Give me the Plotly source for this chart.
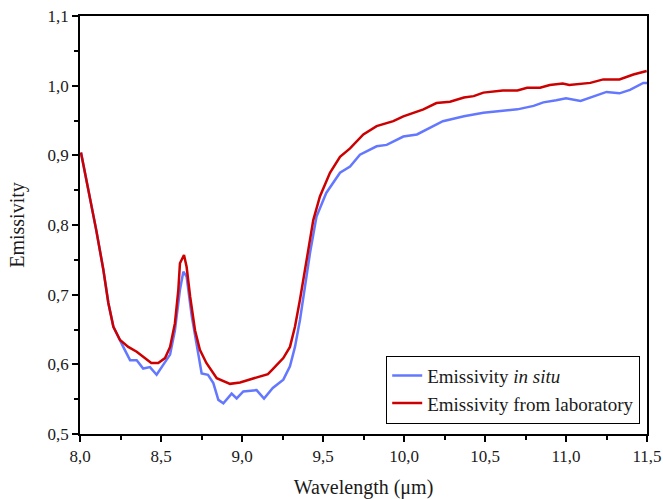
import plotly.graph_objects as go

# Emissivity in situ (blue)
insitu_x = [8.006, 8.062, 8.10, 8.144, 8.175, 8.206, 8.247, 8.267, 8.309, 8.35, 8.39, 8.432, 8.473,
            8.514, 8.556, 8.586, 8.617, 8.638, 8.658, 8.69, 8.72, 8.751, 8.79, 8.823, 8.854, 8.885,
            8.936, 8.967, 9.008, 9.09, 9.136, 9.19, 9.255, 9.296, 9.327, 9.358, 9.389, 9.42, 9.46,
            9.52, 9.605, 9.667, 9.728, 9.831, 9.893, 9.996, 10.08, 10.16, 10.24, 10.37, 10.49,
            10.61, 10.70, 10.80, 10.86, 10.94, 11.00, 11.09, 11.17, 11.25, 11.33, 11.395, 11.477, 11.5]
insitu_y = [0.904, 0.841, 0.793, 0.736, 0.688, 0.654, 0.633, 0.625, 0.606, 0.606, 0.594, 0.596, 0.585,
            0.599, 0.614, 0.649, 0.707, 0.733, 0.726, 0.669, 0.630, 0.587, 0.585, 0.573, 0.549, 0.544,
            0.558, 0.551, 0.561, 0.563, 0.551, 0.566, 0.578, 0.597, 0.625, 0.664, 0.712, 0.760, 0.812,
            0.846, 0.875, 0.884, 0.901, 0.913, 0.915, 0.927, 0.930, 0.939, 0.949, 0.956, 0.961,
            0.964, 0.966, 0.971, 0.976, 0.979, 0.982, 0.978, 0.985, 0.991, 0.989, 0.994, 1.004, 1.004]

# Emissivity from laboratory (red)
lab_x = [8.006, 8.062, 8.10, 8.144, 8.175, 8.206, 8.247, 8.298, 8.35, 8.40, 8.44, 8.483, 8.525,
         8.556, 8.586, 8.607, 8.617, 8.642, 8.658, 8.68, 8.71, 8.74, 8.78, 8.844, 8.926, 8.988,
         9.07, 9.16, 9.19, 9.255, 9.296, 9.327, 9.358, 9.389, 9.42, 9.44, 9.481, 9.543, 9.605,
         9.667, 9.749, 9.831, 9.934, 9.996, 10.12, 10.20, 10.284, 10.37, 10.43, 10.49, 10.61,
         10.70, 10.76, 10.84, 10.90, 10.98, 11.02, 11.10, 11.15, 11.23, 11.33, 11.416, 11.498]
lab_y = [0.904, 0.841, 0.793, 0.736, 0.688, 0.654, 0.635, 0.625, 0.618, 0.609, 0.602, 0.602, 0.609,
         0.625, 0.659, 0.707, 0.745, 0.757, 0.740, 0.697, 0.649, 0.621, 0.602, 0.580, 0.572, 0.574,
         0.580, 0.586, 0.593, 0.609, 0.625, 0.654, 0.693, 0.736, 0.779, 0.807, 0.841, 0.875, 0.898,
         0.910, 0.930, 0.942, 0.949, 0.956, 0.966, 0.975, 0.977, 0.983, 0.985, 0.990, 0.993,
         0.993, 0.997, 0.997, 1.001, 1.003, 1.001, 1.003, 1.004, 1.009, 1.009, 1.016, 1.021]

FONT = "Liberation Serif, Times New Roman, serif"
TXT = "#1a1a1a"

fig = go.Figure()
fig.add_trace(go.Scatter(x=insitu_x, y=insitu_y, mode="lines",
                         name="Emissivity <i>in situ</i>",
                         line=dict(color="#6478ff", width=2.5)))
fig.add_trace(go.Scatter(x=lab_x, y=lab_y, mode="lines",
                         name="Emissivity from laboratory",
                         line=dict(color="#cc0000", width=2.5)))

axis_common = dict(showline=True, linecolor="black", linewidth=1.5, mirror=True,
                   showgrid=False, zeroline=False, ticks="outside", ticklen=6,
                   tickwidth=1.5, tickcolor="black", automargin=False,
                   tickfont=dict(family=FONT, size=17, color=TXT))

fig.update_xaxes(range=[8.0, 11.5], dtick=0.5, tick0=8.0, tickformat=".1f",
                 minor=dict(dtick=0.25, ticks="outside", ticklen=4, tickwidth=1.5, tickcolor="black"),
                 title=dict(text="Wavelength (μm)", font=dict(family=FONT, size=20, color=TXT),
                            standoff=16),
                 **axis_common)
fig.update_yaxes(range=[0.5, 1.1], dtick=0.1, tick0=0.5, tickformat=".1f",
                 minor=dict(dtick=0.05, ticks="outside", ticklen=4, tickwidth=1.5, tickcolor="black"),
                 title=dict(text="Emissivity", font=dict(family=FONT, size=20, color=TXT),
                            standoff=18),
                 **axis_common)

fig.update_layout(
    width=663, height=499,
    margin=dict(l=80, r=16, t=16, b=65),
    paper_bgcolor="white", plot_bgcolor="white",
    separators=",.",
    font=dict(family=FONT, size=17, color=TXT),
    showlegend=True,
    legend=dict(x=0.988, y=0.025, xanchor="right", yanchor="bottom",
                bgcolor="white", bordercolor="black", borderwidth=1,
                font=dict(family=FONT, size=19, color=TXT),
                tracegroupgap=0, itemwidth=30),
)

fig.write_html("out.html")
